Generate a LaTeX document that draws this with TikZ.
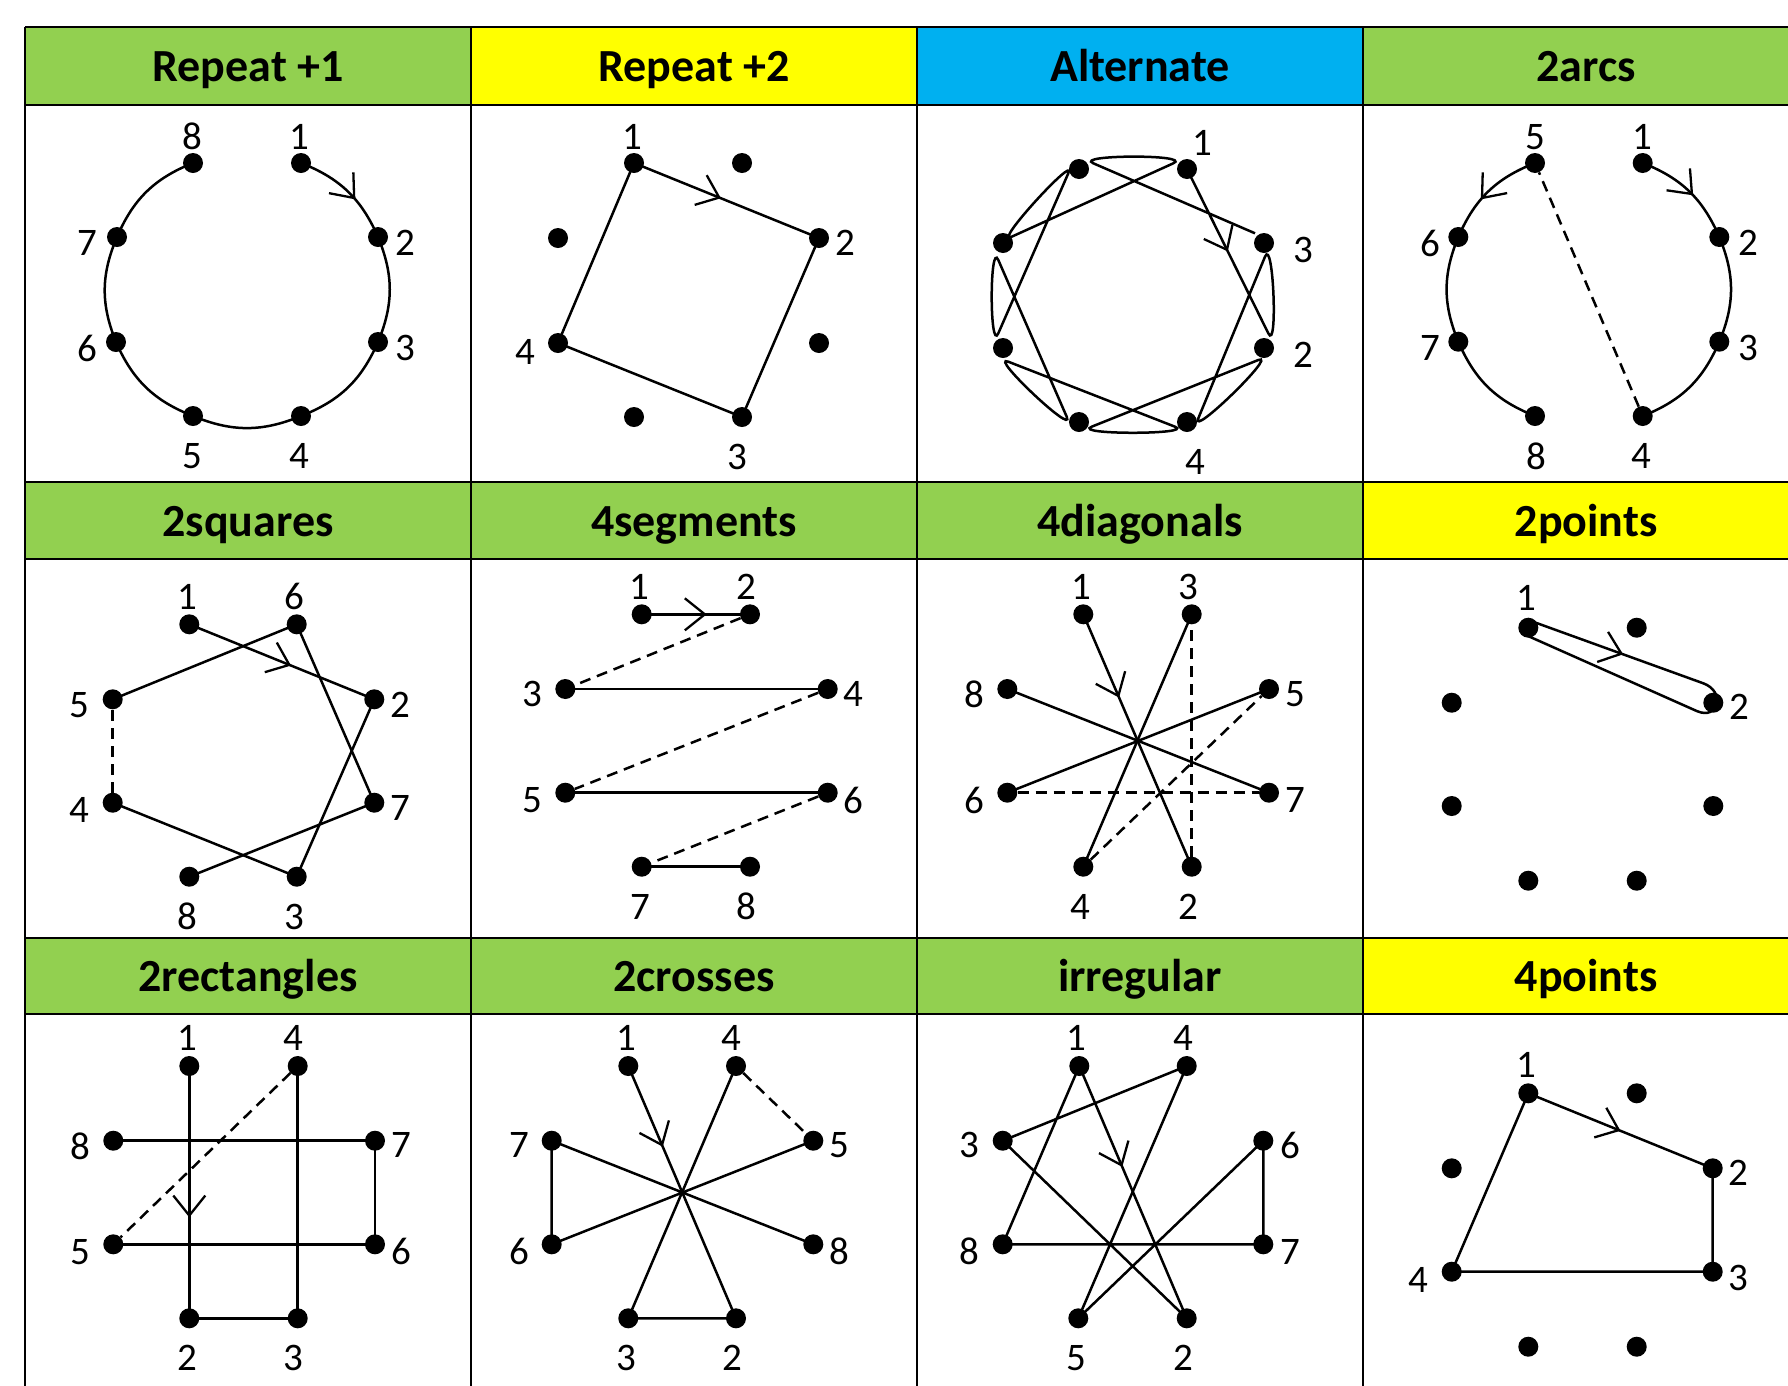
\documentclass[tikz,border=0pt]{standalone}
\usepackage{fontspec}
\setmainfont{Carlito}
\usetikzlibrary{calc,arrows.meta,decorations.markings}
\definecolor{hgreen}{HTML}{92D050}
\definecolor{hyellow}{HTML}{FFFF00}
\definecolor{hblue}{HTML}{00B0F0}
\begin{document}
\begin{tikzpicture}[x=1pt,y=-1pt,
  dot/.style={circle,fill=black,inner sep=0pt,minimum size=20pt},
  lab/.style={inner sep=0pt,font=\fontsize{39}{44}\selectfont},
  head/.style={anchor=base,inner sep=0pt,font=\fontsize{46}{50}\selectfont\bfseries},
  conn/.style={line width=2.5pt},
  dsh/.style={line width=2.5pt,dash pattern=on 11pt off 7pt},
  marr/.style={postaction={decorate},decoration={markings,mark=at position #1 with {\arrow{Straight Barb[length=20pt,width=32pt,line width=2.3pt]}}}},
  gridline/.style={line width=2.8pt}
]
\useasboundingbox (0,0) rectangle (1788,1385);
\clip (0,0) rectangle (1788,1385);
% header fills
\fill[hgreen] (25,27) rectangle (471,105);
\fill[hyellow] (471,27) rectangle (917,105);
\fill[hblue] (917,27) rectangle (1363,105);
\fill[hgreen] (1363,27) rectangle (1809,105);
\fill[hgreen] (25,482) rectangle (1363,559);
\fill[hyellow] (1363,482) rectangle (1809,559);
\fill[hgreen] (25,938) rectangle (1363,1014);
\fill[hyellow] (1363,938) rectangle (1809,1014);
% grid
\foreach \yy in {27,105,482,559,938,1014} \draw[gridline] (25,\yy) -- (1809,\yy);
\foreach \xx in {25,471,917,1363,1809} \draw[gridline] (\xx,27) -- (\xx,1400);
% headers
\node[head] (hA) at (248,81.5) {Repeat +1};
\node[head] (hB) at (694,81.5) {Repeat +2};
\node[head] (hC) at (1140,81.5) {Alternate};
\node[head] (hD) at (1586,81.5) {2arcs};
\node[head] (hE) at (248,536.5) {2squares};
\node[head] (hF) at (694,536.5) {4segments};
\node[head] (hG) at (1140,536.5) {4diagonals};
\node[head] (hH) at (1586,536.5) {2points};
\node[head] (hI) at (248,991) {2rectangles};
\node[head] (hJ) at (694,991) {2crosses};
\node[head] (hK) at (1140,991) {irregular};
\node[head] (hL) at (1586,991) {4points};

% ===== Repeat +1 =====
\node[dot] (a1) at (301,163) {}; \node[dot] (a2) at (378,237) {};
\node[dot] (a3) at (378,342) {}; \node[dot] (a4) at (301,416) {};
\node[dot] (a5) at (193,416) {}; \node[dot] (a6) at (116,342) {};
\node[dot] (a7) at (117,237) {}; \node[dot] (a8) at (193,163) {};
\node[lab] (la1) at (299.3,136.7) {1}; \node[lab] (la2) at (405,243.3) {2};
\node[lab] (la3) at (405,348.3) {3}; \node[lab] (la4) at (299.3,456) {4};
\node[lab] (la5) at (192.7,456) {5}; \node[lab] (la6) at (87.3,348.3) {6};
\node[lab] (la7) at (87.3,243.3) {7}; \node[lab] (la8) at (192.7,136.7) {8};
\draw[conn,marr=0.6] (a1.center) to[bend left=22.5] (a2.center);
\draw[conn] (a2.center) to[bend left=22.5] (a3.center) to[bend left=22.5] (a4.center)
  to[bend left=22.5] (a5.center) to[bend left=22.5] (a6.center)
  to[bend left=22.5] (a7.center) to[bend left=22.5] (a8.center);

% ===== Repeat +2 =====
\node[dot] (b1) at (634,163) {}; \node[dot] (bx1) at (742,163) {};
\node[dot] (bx2) at (558,238) {}; \node[dot] (b2) at (819,238) {};
\node[dot] (b4) at (558,343) {}; \node[dot] (bx3) at (819,343) {};
\node[dot] (bx4) at (634,417) {}; \node[dot] (b3) at (742,417) {};
\node[lab] (lb1) at (632.7,136.7) {1}; \node[lab] (lb2) at (845,243.3) {2};
\node[lab] (lb4) at (525,351.7) {4}; \node[lab] (lb3) at (737.7,456.7) {3};
\draw[conn,marr=0.47] (b1.center) -- (b2.center);
\draw[conn] (b2.center) -- (b3.center) -- (b4.center) -- (b1.center);

% ===== Alternate =====
\node[dot] (c1) at (1187,169) {}; \node[dot] (c3) at (1264,243) {};
\node[dot] (c2) at (1264,348) {}; \node[dot] (c4) at (1187,422) {};
\node[dot] (cx1) at (1079,422) {}; \node[dot] (cx2) at (1003,348) {};
\node[dot] (cx3) at (1003,243) {}; \node[dot] (cx4) at (1079,169) {};
\node[lab] (lc1) at (1202.3,143.3) {1}; \node[lab] (lc3) at (1303.3,250) {3};
\node[lab] (lc2) at (1303.3,355) {2}; \node[lab] (lc4) at (1195,461.7) {4};
\coordinate (cA1) at (1268.3,333.3); \coordinate (cB1) at (1265,256.7);
\coordinate (cA2) at (1198.3,418.3); \coordinate (cB2) at (1258.3,360);
\coordinate (cA3) at (1091.7,426.7); \coordinate (cB3) at (1175,426.7);
\coordinate (cA4) at (1008.3,361.7); \coordinate (cB4) at (1066.7,416.7);
\coordinate (cA5) at (998.3,260); \coordinate (cB5) at (998.3,333.3);
\coordinate (cA6) at (1068.3,173.3); \coordinate (cB6) at (1011.7,236.7);
\coordinate (cA7) at (1173.3,163.3); \coordinate (cB7) at (1093.3,163.3);
\coordinate (cA8) at (1255,233.3);
\draw[conn,marr=92pt] (c1.center) -- (cA1)
  .. controls ($(cA1)!-22pt!(c1.center)$) and ($(cB1)!-22pt!(cA2)$) .. (cB1) -- (cA2)
  .. controls ($(cA2)!-22pt!(cB1)$) and ($(cB2)!-22pt!(cA3)$) .. (cB2) -- (cA3)
  .. controls ($(cA3)!-22pt!(cB2)$) and ($(cB3)!-22pt!(cA4)$) .. (cB3) -- (cA4)
  .. controls ($(cA4)!-22pt!(cB3)$) and ($(cB4)!-22pt!(cA5)$) .. (cB4) -- (cA5)
  .. controls ($(cA5)!-22pt!(cB4)$) and ($(cB5)!-22pt!(cA6)$) .. (cB5) -- (cA6)
  .. controls ($(cA6)!-22pt!(cB5)$) and ($(cB6)!-22pt!(cA7)$) .. (cB6) -- (cA7)
  .. controls ($(cA7)!-22pt!(cB6)$) and ($(cB7)!-22pt!(cA8)$) .. (cB7) -- (cA8);

% ===== 2arcs =====
\node[dot] (d5) at (1535,163) {}; \node[dot] (d1) at (1642.7,163) {};
\node[dot] (d6) at (1458.3,237) {}; \node[dot] (d2) at (1719.3,237) {};
\node[dot] (d7) at (1458.3,341.7) {}; \node[dot] (d3) at (1719.3,341.7) {};
\node[dot] (d8) at (1535,416) {}; \node[dot] (d4) at (1642.7,416) {};
\node[lab] (ld5) at (1535,136.7) {5}; \node[lab] (ld1) at (1642.7,136.7) {1};
\node[lab] (ld6) at (1430,243.3) {6}; \node[lab] (ld2) at (1748.3,243.3) {2};
\node[lab] (ld7) at (1430,348.3) {7}; \node[lab] (ld3) at (1748.3,348.3) {3};
\node[lab] (ld8) at (1536,456) {8}; \node[lab] (ld4) at (1641.7,456) {4};
\draw[conn,marr=0.55] (d1.center) to[bend left=22.5] (d2.center);
\draw[conn] (d2.center) to[bend left=22.5] (d3.center) to[bend left=22.5] (d4.center);
\draw[dsh] (d4) -- (d5);
\draw[conn,marr=0.6] (d5.center) to[bend right=22.5] (d6.center);
\draw[conn] (d6.center) to[bend right=22.5] (d7.center) to[bend right=22.5] (d8.center);

% ===== 2squares =====
\node[dot] (e1) at (189.3,624.3) {}; \node[dot] (e6) at (296.7,624.3) {};
\node[dot] (e5) at (112.7,699.3) {}; \node[dot] (e2) at (374.3,699.3) {};
\node[dot] (e4) at (112.7,802.7) {}; \node[dot] (e7) at (374.3,802.7) {};
\node[dot] (e8) at (189.3,876.7) {}; \node[dot] (e3) at (296.7,876.7) {};
\node[lab] (le1) at (187.3,596.7) {1}; \node[lab] (le6) at (294,596.7) {6};
\node[lab] (le5) at (79.3,705) {5}; \node[lab] (le2) at (400,705) {2};
\node[lab] (le4) at (79.3,810) {4}; \node[lab] (le7) at (400,808) {7};
\node[lab] (le8) at (187.3,916.7) {8}; \node[lab] (le3) at (294,916.7) {3};
\draw[conn,marr=0.55] (e1.center) -- (e2.center);
\draw[conn] (e2.center) -- (e3.center) -- (e4.center);
\draw[dsh] (e4) -- (e5);
\draw[conn] (e5.center) -- (e6.center) -- (e7.center) -- (e8.center);

% ===== 4segments =====
\node[dot] (f1) at (641.7,614.3) {}; \node[dot] (f2) at (750,614.3) {};
\node[dot] (f3) at (565.3,689) {}; \node[dot] (f4) at (827.7,689) {};
\node[dot] (f5) at (565.3,792.7) {}; \node[dot] (f6) at (827.7,792.7) {};
\node[dot] (f7) at (641.7,866.7) {}; \node[dot] (f8) at (750,866.7) {};
\node[lab] (lf1) at (639.3,586.7) {1}; \node[lab] (lf2) at (746,586.7) {2};
\node[lab] (lf3) at (532.7,694) {3}; \node[lab] (lf4) at (853.3,694) {4};
\node[lab] (lf5) at (532.7,800) {5}; \node[lab] (lf6) at (853.3,800) {6};
\node[lab] (lf7) at (640,906.7) {7}; \node[lab] (lf8) at (746,906.7) {8};
\draw[conn,marr=0.6] (f1.center) -- (f2.center);
\draw[dsh] (f2) -- (f3);
\draw[conn] (f3.center) -- (f4.center);
\draw[dsh] (f4) -- (f5);
\draw[conn] (f5.center) -- (f6.center);
\draw[dsh] (f6) -- (f7);
\draw[conn] (f7.center) -- (f8.center);

% ===== 4diagonals =====
\node[dot] (g1) at (1083.3,614.3) {}; \node[dot] (g3) at (1191.7,614.3) {};
\node[dot] (g8) at (1007.3,689) {}; \node[dot] (g5) at (1269,689) {};
\node[dot] (g6) at (1007.3,792.7) {}; \node[dot] (g7) at (1269,792.7) {};
\node[dot] (g4) at (1083.3,866.7) {}; \node[dot] (g2) at (1191.7,866.7) {};
\node[lab] (lg1) at (1081.7,586.7) {1}; \node[lab] (lg3) at (1188.3,586.7) {3};
\node[lab] (lg8) at (974,694) {8}; \node[lab] (lg5) at (1295,694) {5};
\node[lab] (lg6) at (974,800) {6}; \node[lab] (lg7) at (1295,800) {7};
\node[lab] (lg4) at (1080.7,906.7) {4}; \node[lab] (lg2) at (1188.3,906.7) {2};
\draw[conn,marr=0.33] (g1.center) -- (g2.center);
\draw[dsh] (g2) -- (g3);
\draw[conn] (g3.center) -- (g4.center);
\draw[dsh] (g4) -- (g5);
\draw[conn] (g5.center) -- (g6.center);
\draw[dsh] (g6) -- (g7);
\draw[conn] (g7.center) -- (g8.center);

% ===== 2points =====
\node[dot] (h1) at (1528.3,627.7) {}; \node[dot] (hx1) at (1636.7,627.7) {};
\node[dot] (hx2) at (1451.7,702.7) {}; \node[dot] (h2) at (1713.3,702.7) {};
\node[dot] (hx3) at (1451.7,806) {}; \node[dot] (hx4) at (1713.3,806) {};
\node[dot] (hx5) at (1528.3,880.7) {}; \node[dot] (hx6) at (1636.7,880.7) {};
\node[lab] (lh1) at (1526,598.3) {1}; \node[lab] (lh2) at (1739.3,706.7) {2};
\coordinate (hS) at (1531,621);
\coordinate (hU) at (1703.3,683.3);
\coordinate (hL) at (1696.7,711);
\coordinate (hE) at (1528,636);
\draw[conn,marr=98pt] (hS) -- (hU)
  .. controls ($(hU)!-24pt!(hS)$) and ($(hL)!-24pt!(hE)$) .. (hL) -- (hE);

% ===== 2rectangles =====
\node[dot] (i1) at (189.3,1066) {}; \node[dot] (i4) at (297.7,1066) {};
\node[dot] (i8) at (113.3,1140.7) {}; \node[dot] (i7) at (375,1140.7) {};
\node[dot] (i5) at (113.3,1244.3) {}; \node[dot] (i6) at (375,1244.3) {};
\node[dot] (i2) at (189.3,1318.3) {}; \node[dot] (i3) at (297.7,1318.3) {};
\node[lab] (li1) at (187.3,1038.3) {1}; \node[lab] (li4) at (293.3,1038.3) {4};
\node[lab] (li8) at (80,1146) {8}; \node[lab] (li7) at (401.7,1145) {7};
\node[lab] (li5) at (80,1251.7) {5}; \node[lab] (li6) at (401.7,1251.7) {6};
\node[lab] (li2) at (187.3,1358.3) {2}; \node[lab] (li3) at (293.3,1358.3) {3};
\draw[conn,marr=0.6] (i1.center) -- (i2.center);
\draw[conn] (i2.center) -- (i3.center) -- (i4.center);
\draw[dsh] (i4) -- (i5);
\draw[conn] (i5.center) -- (i6.center) -- (i7.center) -- (i8.center);

% ===== 2crosses =====
\node[dot] (j1) at (628.3,1066) {}; \node[dot] (j4) at (736,1066) {};
\node[dot] (j7) at (551.7,1140.7) {}; \node[dot] (j5) at (813.3,1140.7) {};
\node[dot] (j6) at (551.7,1244.3) {}; \node[dot] (j8) at (813.3,1244.3) {};
\node[dot] (j3) at (628.3,1318.3) {}; \node[dot] (j2) at (736,1318.3) {};
\node[lab] (lj1) at (626,1038.3) {1}; \node[lab] (lj4) at (731.7,1038.3) {4};
\node[lab] (lj7) at (519.3,1145) {7}; \node[lab] (lj5) at (839.3,1145) {5};
\node[lab] (lj6) at (519.3,1251.7) {6}; \node[lab] (lj8) at (839.3,1251.7) {8};
\node[lab] (lj3) at (626,1358.3) {3}; \node[lab] (lj2) at (732.7,1358.3) {2};
\draw[conn,marr=0.32] (j1.center) -- (j2.center);
\draw[conn] (j2.center) -- (j3.center) -- (j4.center);
\draw[dsh] (j4) -- (j5);
\draw[conn] (j5.center) -- (j6.center) -- (j7.center) -- (j8.center);

% ===== irregular =====
\node[dot] (k1) at (1079.3,1066) {}; \node[dot] (k4) at (1186.7,1066) {};
\node[dot] (k3) at (1002.7,1140.7) {}; \node[dot] (k6) at (1263.3,1140.7) {};
\node[dot] (k8) at (1002.7,1244.3) {}; \node[dot] (k7) at (1263.3,1244.3) {};
\node[dot] (k5) at (1078.3,1318.3) {}; \node[dot] (k2) at (1186.7,1318.3) {};
\node[lab] (lk1) at (1076.7,1038.3) {1}; \node[lab] (lk4) at (1183.3,1038.3) {4};
\node[lab] (lk3) at (969.3,1145) {3}; \node[lab] (lk6) at (1290,1145) {6};
\node[lab] (lk8) at (969.3,1251.7) {8}; \node[lab] (lk7) at (1290,1251.7) {7};
\node[lab] (lk5) at (1076,1358.3) {5}; \node[lab] (lk2) at (1183.3,1358.3) {2};
\draw[conn,marr=0.4] (k1.center) -- (k2.center);
\draw[conn] (k2.center) -- (k3.center) -- (k4.center) -- (k5.center) -- (k6.center)
  -- (k7.center) -- (k8.center) -- (k1.center);

% ===== 4points =====
\node[dot] (l1) at (1528.3,1093.3) {}; \node[dot] (lx1) at (1636.7,1093.3) {};
\node[dot] (lx2) at (1451.7,1168.3) {}; \node[dot] (l2) at (1712.7,1168.3) {};
\node[dot] (l4) at (1451.7,1271.7) {}; \node[dot] (l3) at (1712.7,1271.7) {};
\node[dot] (lx3) at (1528.3,1346.7) {}; \node[dot] (lx4) at (1636.7,1346.7) {};
\node[lab] (ll1) at (1526,1065) {1}; \node[lab] (ll2) at (1738.3,1173.3) {2};
\node[lab] (ll3) at (1738.3,1278.3) {3}; \node[lab] (ll4) at (1418.3,1280) {4};
\draw[conn,marr=0.5] (l1.center) -- (l2.center);
\draw[conn] (l2.center) -- (l3.center) -- (l4.center) -- (l1.center);
\end{tikzpicture}
\end{document}
